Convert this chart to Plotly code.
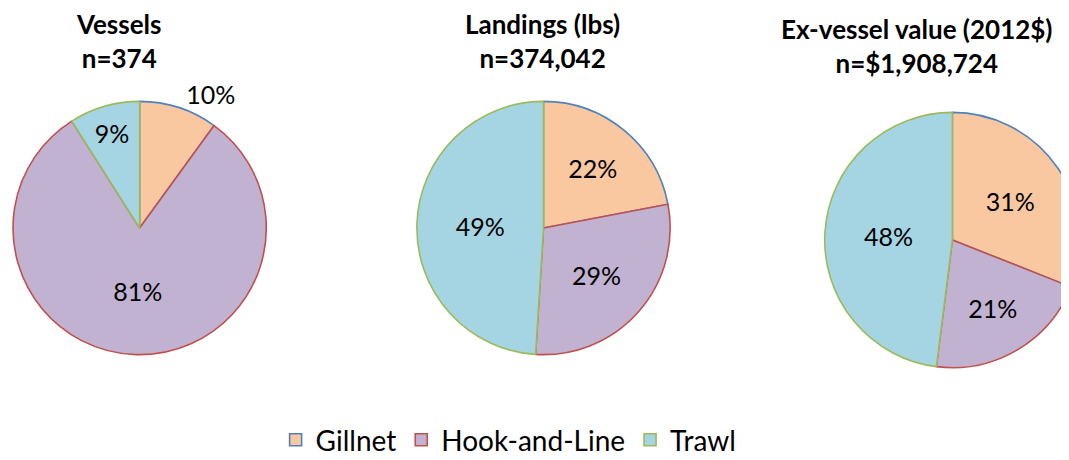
import plotly.graph_objects as go

gears = ["Gillnet", "Hook-and-Line", "Trawl"]
vessels_pct = [10, 81, 9]
landings_pct = [22, 29, 49]
value_pct = [31, 21, 48]
titles = ["Vessels<br>n=374", "Landings (lbs)<br>n=374,042", "Ex-vessel value (2012$)<br>n=$1,908,724"]

fills = ["#FAC8A0", "#C2B2D2", "#A5D5E3"]
borders = ["#4F81BD", "#C0504D", "#9BBB59"]

W, H = 1080, 460
OFF = 8  # page body margin

def dom(cx, cy, r):
    cx -= OFF
    cy -= OFF
    return dict(x=[(cx - r) / W, min(1.0, (cx + r) / W)], y=[1 - (cy + r) / H, 1 - (cy - r) / H])

font = "Lato, 'Open Sans', sans-serif"

fig = go.Figure()
specs = [
    (vessels_pct, dom(137, 228, 127), ["outside", "inside", "inside"]),
    (landings_pct, dom(542, 228, 127), "inside"),
    (value_pct, dom(952, 240, 128), "inside"),
]
for vals, d, tp in specs:
    fig.add_trace(go.Pie(
        labels=gears, values=vals, sort=False, direction="clockwise", rotation=0,
        domain=d,
        marker=dict(colors=fills, line=dict(color=borders, width=1.6)),
        texttemplate="%{percent:.0%}", textposition=tp,
        insidetextorientation="horizontal",
        textfont=dict(family=font, size=25, color="black"),
        hoverinfo="label+percent",
    ))

title_pos = [(116, 41), (541, 41), (917, 46)]
for t, (x, y) in zip(titles, title_pos):
    fig.add_annotation(text="<b>" + t + "</b>", x=(x - OFF) / W, y=1 - (y - OFF) / H,
                       xref="paper", yref="paper",
                       showarrow=False, xanchor="center", yanchor="middle",
                       font=dict(family=font, size=26, color="black"))

fig.update_layout(
    width=W, height=H,
    margin=dict(l=0, r=0, t=0, b=0),
    paper_bgcolor="white", plot_bgcolor="white",
    showlegend=True,
    legend=dict(orientation="h", x=(507 - OFF) / W, xanchor="center", y=1 - (440 - OFF) / H,
                yanchor="middle",
                font=dict(family=font, size=28, color="black"),
                traceorder="normal"),
)
fig.write_html("out.html")
